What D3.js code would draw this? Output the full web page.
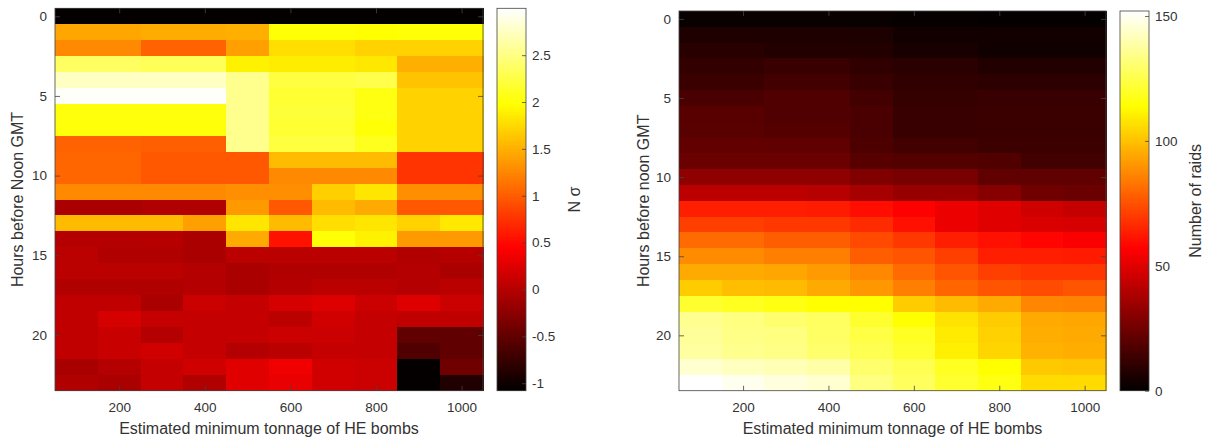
<!DOCTYPE html>
<html lang="en">
<head>
    <meta charset="UTF-8">
    <title>Raids heatmaps</title>
    <style>
        body { margin: 0; background: #fff; }
        svg { display: block; font-family: "Liberation Sans", Arial, sans-serif; }
        .tick text { fill: #333; }
        .lbl { fill: #333; }
    </style>
</head>
<body>
    <script src="https://d3js.org/d3.v7.min.js"></script>
    <script>
        // categories
        var tonnage = [100, 200, 300, 400, 500, 600, 700, 800, 900, 1000];
        var hours = [0, 1, 2, 3, 4, 5, 6, 7, 8, 9, 10, 11, 12, 13, 14, 15, 16, 17, 18, 19, 20, 21, 22, 23];

        // tick labels
        var xTicks = [200, 400, 600, 800, 1000];
        var yTicks = [0, 5, 10, 15, 20];
        var sigmaTicks = [-1, -0.5, 0, 0.5, 1, 1.5, 2, 2.5];
        var raidTicks = [0, 50, 100, 150];

        // colour limits
        var sigmaRange = [-1.08, 3.0];
        var raidRange = [0, 152];

        // left panel: N sigma, one row per hour, one value per tonnage bin
        var nSigma = [
            [-1.05, -1.05, -1.05, -1.05, -1.05, -1.06, -1.06, -1.06, -1.06, -1.06],
            [1.45, 1.45, 1.48, 1.48, 1.5, 2.0, 2.0, 1.98, 2.0, 2.0],
            [1.27, 1.27, 1.04, 1.04, 1.41, 1.78, 1.78, 1.71, 1.71, 1.71],
            [2.37, 2.37, 2.33, 2.33, 1.9, 1.87, 1.87, 1.84, 1.5, 1.5],
            [2.75, 2.75, 2.75, 2.75, 2.55, 2.23, 2.23, 2.28, 1.62, 1.62],
            [2.98, 2.98, 2.98, 2.98, 2.55, 2.18, 2.18, 2.05, 1.71, 1.71],
            [2.03, 2.03, 2.03, 2.03, 2.55, 2.2, 2.2, 2.05, 1.71, 1.71],
            [2.02, 2.02, 2.02, 2.02, 2.55, 2.18, 2.18, 2.0, 1.71, 1.71],
            [1.04, 1.04, 1.02, 1.02, 2.55, 2.23, 2.23, 2.1, 1.71, 1.71],
            [1.06, 1.06, 0.98, 0.98, 0.98, 1.57, 1.57, 1.57, 0.76, 0.76],
            [1.06, 1.06, 0.98, 0.98, 0.98, 1.27, 1.27, 1.27, 0.76, 0.76],
            [1.27, 1.27, 1.27, 1.27, 1.3, 1.3, 1.69, 1.83, 1.3, 1.3],
            [-0.06, -0.06, -0.02, -0.02, 1.37, 0.98, 1.57, 1.47, 0.98, 0.98],
            [1.57, 1.57, 1.57, 1.41, 1.83, 1.57, 1.78, 1.83, 1.71, 1.85],
            [0.0, 0.0, 0.01, -0.06, 1.47, 0.55, 2.0, 1.9, 1.37, 1.37],
            [0.04, -0.02, -0.02, -0.06, 0.04, 0.04, 0.04, 0.04, -0.02, 0.01],
            [0.04, 0.04, 0.04, 0.0, -0.06, -0.02, -0.02, -0.02, 0.0, -0.06],
            [-0.02, -0.02, -0.02, 0.0, -0.06, 0.0, 0.04, 0.04, 0.0, 0.04],
            [0.07, 0.07, -0.06, 0.14, 0.1, 0.2, 0.25, 0.14, 0.25, 0.14],
            [0.07, 0.2, 0.1, 0.1, 0.1, 0.04, 0.17, 0.1, 0.07, 0.07],
            [0.07, 0.12, 0.0, 0.1, 0.1, 0.14, 0.14, 0.1, -0.5, -0.5],
            [0.07, 0.12, 0.17, 0.1, 0.0, 0.04, 0.1, 0.1, -0.6, -0.5],
            [-0.07, 0.0, 0.1, 0.17, 0.27, 0.36, 0.17, 0.14, -1.05, -0.41],
            [-0.02, -0.06, 0.1, -0.02, 0.27, 0.32, 0.17, 0.14, -1.05, -0.89]
        ];

        // right panel: number of raids
        var nRaids = [
            [2, 2, 2, 2, 2, 1.5, 1.5, 1, 1, 1],
            [7, 7, 7, 7, 6.5, 4, 4, 4, 4, 4],
            [9, 9, 7.6, 7.6, 7.6, 5.4, 5.4, 3.6, 3.6, 3.6],
            [11.4, 11.4, 12.5, 12.5, 10.7, 9.4, 9.4, 7.6, 7.6, 7.6],
            [13, 13, 15, 15, 12.5, 10.7, 10.7, 9.8, 9.8, 9.8],
            [16.5, 16.5, 17.9, 17.9, 15, 11.9, 11.9, 12.5, 12.5, 12.5],
            [19.7, 19.7, 17.9, 17.9, 16.5, 12.5, 12.5, 13, 13, 13],
            [20, 20, 19, 19, 16.5, 12.5, 12.5, 13, 13, 13],
            [22, 22, 21.5, 21.5, 17, 15, 15, 13.4, 13.4, 13.4],
            [23.8, 23.8, 23.8, 23.8, 19.7, 18.3, 18.3, 18, 15, 15],
            [32, 32, 32, 32, 28.6, 27, 27, 21.5, 21.5, 21.5],
            [42, 42, 42, 41, 37, 34, 34, 30, 25, 24],
            [64, 64, 64, 63, 60, 57, 53, 50, 46, 44],
            [71, 71, 69.5, 69.5, 66.5, 60.5, 53, 50, 49, 48],
            [81, 81, 78, 78, 73.5, 69.5, 64, 60.5, 58, 56],
            [88, 88, 85.5, 85.5, 78, 76, 71, 64, 64, 63],
            [95, 95, 94, 91.5, 87.5, 81, 76, 71, 69, 69],
            [102.6, 99.8, 98.8, 95, 91, 85.5, 79.8, 76, 74, 76],
            [121, 118.8, 116.5, 114, 114, 102.6, 98.8, 95, 87, 86],
            [135.3, 133, 130.3, 128.3, 121, 114, 107.8, 102.6, 95, 94],
            [136.8, 134, 133, 128.9, 124, 119, 109.5, 103.7, 96, 95],
            [137.8, 135, 134, 130, 126, 121, 110.5, 104.7, 97, 96],
            [145, 142.5, 141, 139, 130, 126, 119, 114, 102, 101],
            [152, 149.6, 147, 145, 133, 128, 121, 116.5, 106, 106]
        ];

        // matlab "hot"
        function hot(t) {
            t = Math.max(0, Math.min(1, t));
            var r = Math.min(1, t / 0.375);
            var g = Math.max(0, Math.min(1, (t - 0.375) / 0.375));
            var b = Math.max(0, (t - 0.75) / 0.25);
            return d3.rgb(r * 255, g * 255, b * 255).toString();
        }

        var svg = d3.select("body")
            .append("svg")
            .attr("width", 1208)
            .attr("height", 441);

        var fmt = function(d) { return String(d); };

        function drawPanel(p) {
            var g = svg.append("g");

            var x = d3.scaleLinear().domain([50, 1050]).range([p.x0, p.x1]);
            var y = d3.scaleLinear().domain([-0.5, 23.5]).range([p.y0, p.y1]);
            var color = d3.scaleSequential(hot).domain(p.range);

            // cells
            var cells = [];
            p.values.forEach(function(row, i) {
                row.forEach(function(v, j) {
                    cells.push({h: hours[i], t: tonnage[j], v: v});
                });
            });

            g.selectAll(".cell")
                .data(cells)
                .enter()
                .append("rect")
                .attr("shape-rendering", "crispEdges")
                .attr("x", function(d) { return x(d.t - 50); })
                .attr("y", function(d) { return y(d.h - 0.5); })
                .attr("width", function(d) { return x(d.t + 50) - x(d.t - 50) + 0.5; })
                .attr("height", function(d) { return y(d.h + 0.5) - y(d.h - 0.5) + 0.5; })
                .attr("fill", function(d) { return color(d.v); });

            // axes, ticks inward on all sides
            var axB = g.append("g")
                .attr("transform", "translate(0," + p.y1 + ")")
                .call(d3.axisBottom(x).tickValues(xTicks).tickFormat(fmt).tickSizeInner(-5).tickSizeOuter(0).tickPadding(12));
            var axT = g.append("g")
                .attr("transform", "translate(0," + p.y0 + ")")
                .call(d3.axisTop(x).tickValues(xTicks).tickFormat("").tickSizeInner(-5).tickSizeOuter(0));
            var axL = g.append("g")
                .attr("transform", "translate(" + p.x0 + ",0)")
                .call(d3.axisLeft(y).tickValues(yTicks).tickFormat(fmt).tickSizeInner(-5).tickSizeOuter(0).tickPadding(8));
            var axR = g.append("g")
                .attr("transform", "translate(" + p.x1 + ",0)")
                .call(d3.axisRight(y).tickValues(yTicks).tickFormat("").tickSizeInner(-5).tickSizeOuter(0));

            [axB, axT, axL, axR].forEach(function(a) {
                a.select(".domain").remove();
                a.selectAll("line").attr("stroke", "#444").attr("stroke-width", 0.8);
                a.selectAll("text").attr("font-size", "13.5px").attr("font-family", null);
            });

            g.append("rect")
                .attr("x", p.x0).attr("y", p.y0)
                .attr("width", p.x1 - p.x0).attr("height", p.y1 - p.y0)
                .attr("fill", "none").attr("stroke", "#444").attr("stroke-width", 0.8);

            g.append("text")
                .attr("class", "lbl")
                .attr("x", (p.x0 + p.x1) / 2)
                .attr("y", 434)
                .attr("text-anchor", "middle")
                .attr("font-size", "16px")
                .text("Estimated minimum tonnage of HE bombs");

            g.append("text")
                .attr("class", "lbl")
                .attr("transform", "translate(" + p.ylabX + "," + ((p.y0 + p.y1) / 2) + ") rotate(-90)")
                .attr("text-anchor", "middle")
                .attr("dy", "0.35em")
                .attr("font-size", "16px")
                .text(p.ylabel);

            // colorbar
            var cy = d3.scaleLinear().domain(p.range).range([p.y1, p.y0]);
            var steps = d3.range(256).map(function(i) {
                return p.range[0] + (p.range[1] - p.range[0]) * i / 256;
            });
            var dv = (p.range[1] - p.range[0]) / 256;
            g.selectAll(".cb")
                .data(steps)
                .enter()
                .append("rect")
                .attr("shape-rendering", "crispEdges")
                .attr("x", p.cbX)
                .attr("width", p.cbW)
                .attr("y", function(d) { return cy(d + dv) - 0.5; })
                .attr("height", function(d) { return cy(d) - cy(d + dv) + 1; })
                .attr("fill", function(d) { return color(d + dv / 2); });

            var cbAx = g.append("g")
                .attr("transform", "translate(" + (p.cbX + p.cbW) + ",0)")
                .call(d3.axisRight(cy).tickValues(p.cbTicks).tickFormat(fmt).tickSizeInner(-4).tickSizeOuter(0).tickPadding(6));
            cbAx.select(".domain").remove();
            cbAx.selectAll("line").attr("stroke", "#444").attr("stroke-width", 0.8);
            cbAx.selectAll("text").attr("font-size", "13.5px").attr("font-family", null);

            g.append("rect")
                .attr("x", p.cbX).attr("y", p.y0)
                .attr("width", p.cbW).attr("height", p.y1 - p.y0)
                .attr("fill", "none").attr("stroke", "#444").attr("stroke-width", 0.8);

            g.append("text")
                .attr("class", "lbl")
                .attr("transform", "translate(" + p.cbLabX + "," + ((p.y0 + p.y1) / 2) + ") rotate(-90)")
                .attr("text-anchor", "middle")
                .attr("dy", "0.35em")
                .attr("font-size", "16px")
                .text(p.cbLabel);
        }

        drawPanel({
            x0: 55, x1: 483, y0: 8.3, y1: 390.7,
            values: nSigma, range: sigmaRange,
            ylabel: "Hours before Noon GMT", ylabX: 17,
            cbX: 497, cbW: 29, cbTicks: sigmaTicks,
            cbLabel: "N σ", cbLabX: 574
        });

        drawPanel({
            x0: 679, x1: 1106, y0: 11, y1: 390.7,
            values: nRaids, range: raidRange,
            ylabel: "Hours before noon GMT", ylabX: 643,
            cbX: 1120, cbW: 29, cbTicks: raidTicks,
            cbLabel: "Number of raids", cbLabX: 1195
        });
    </script>
</body>
</html>
